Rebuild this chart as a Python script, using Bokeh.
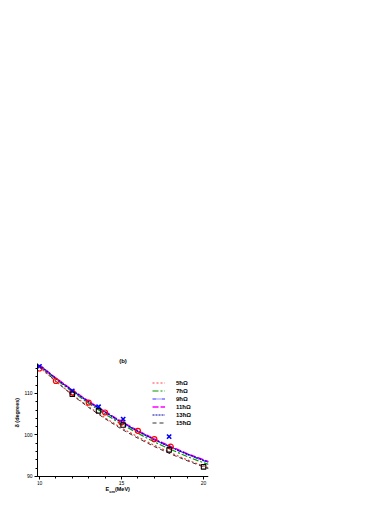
from bokeh.plotting import figure
from bokeh.models import Legend, LegendItem, Title, Label, SingleIntervalTicker, Range1d
from bokeh.embed import file_html
from bokeh.resources import INLINE

# ---- data ----
x_curve = [10, 11, 12, 13, 14, 15, 16, 17, 18, 19, 20, 20.3]
c5 = [116.3, 112.9, 109.7, 106.8, 104.1, 101.7, 99.5, 97.5, 95.7, 94.0, 92.5, 92.1]
c7 = [116.6, 113.4, 110.4, 107.6, 105.0, 102.6, 100.4, 98.3, 96.5, 94.8, 93.3, 92.9]
c9 = [116.7, 113.6, 110.7, 107.9, 105.4, 103.0, 100.8, 98.8, 97.0, 95.3, 93.8, 93.4]
c11 = [116.8, 113.7, 110.8, 108.1, 105.6, 103.2, 101.0, 99.0, 97.2, 95.5, 94.0, 93.6]
c13 = [116.8, 113.6, 110.7, 108.0, 105.5, 103.1, 100.9, 98.9, 97.1, 95.4, 93.9, 93.5]
c15 = [116.5, 112.9, 109.6, 106.6, 103.9, 101.4, 99.2, 97.2, 95.4, 93.8, 92.3, 91.9]

circ_x = [10, 11, 12, 13, 14, 15, 16, 17, 18]
circ_y = [116.0, 113.0, 110.2, 107.8, 105.4, 103.0, 101.0, 99.0, 97.2]
cross_x = [10, 12, 13.6, 15.1, 17.9]
cross_y = [116.5, 110.6, 106.8, 103.8, 99.6]
sq_x = [12, 13.6, 15.1, 17.9, 20]
sq_y = [109.8, 105.8, 102.4, 96.4, 92.3]

labels = ["5\u0127\u03a9", "7\u0127\u03a9", "9\u0127\u03a9", "11\u0127\u03a9", "13\u0127\u03a9", "15\u0127\u03a9"]
series = [c5, c7, c9, c11, c13, c15]
colors = ["#ff4040", "#009900", "#3030ff", "#ff00ff", "#0000aa", "#333333"]
dashes = ["2 2", "6 2 2 2", "4 1 1 1 1 1", "6 2", "2 1", "4 3"]
widths = [1.2, 1.2, 1.2, 1.6, 1.2, 1.0]

FONT = "Liberation Sans"
Y0, Y1 = 90, 117.2

p = figure(width=370, height=495, output_backend="svg", toolbar_location=None,
           x_range=Range1d(9.88, 20.3), y_range=Range1d(85.42, Y1),
           min_border_left=37, min_border_right=162, min_border_top=363, min_border_bottom=0)
p.frame_width = 171
p.frame_height = 132
p.outline_line_color = None
p.xgrid.visible = False
p.ygrid.visible = False
p.background_fill_color = "white"
p.border_fill_color = "white"

p.title.text = "(b)"
p.title.align = "center"
p.title.text_font = FONT
p.title.text_font_size = "6px"
p.title.text_font_style = "bold"
p.title.text_color = "black"
p.title.standoff = 0

items = []
for lab, ys, col, d, w in zip(labels, series, colors, dashes, widths):
    r = p.line(x_curve, ys, line_color=col, line_dash=d, line_width=w)
    items.append(LegendItem(label=lab, renderers=[r]))

p.scatter(circ_x, circ_y, marker="circle", size=5, fill_color=None, line_color="red", line_width=1.2)
p.scatter(cross_x, cross_y, marker="x", size=6, line_color="blue", line_width=1.6)
p.scatter(sq_x, sq_y, marker="square", size=4.5, fill_color=None, line_color="black", line_width=1.1)

for ax in (p.xaxis[0], p.yaxis[0]):
    ax.major_label_text_font = FONT
    ax.major_label_text_font_size = "5px"
    ax.major_label_text_color = "black"
    ax.axis_line_color = "black"
    ax.major_tick_line_color = "black"
    ax.minor_tick_line_color = "black"
    ax.major_tick_in = 0
    ax.major_tick_out = 3
    ax.minor_tick_in = 0
    ax.minor_tick_out = 2
    ax.axis_line_width = 1
    ax.major_label_standoff = 2

p.xaxis.ticker = SingleIntervalTicker(interval=5, num_minor_ticks=5)
p.yaxis.ticker = SingleIntervalTicker(interval=10, num_minor_ticks=5)
p.yaxis.bounds = (Y0, Y1)
p.xaxis.fixed_location = Y0
p.xaxis.axis_label = None
p.yaxis.axis_label = None

# y-axis label as a left title (leading no-break spaces lift it to the reference position)
ty = Title(text="\u00a0" * 22 + "\u03b4 (degrees)", align="center", standoff=4,
           text_font=FONT, text_font_size="5.5px", text_font_style="bold", text_color="black")
p.add_layout(ty, "left")

# x-axis label "E_cm (MeV)"
lab_kw = dict(text_font=FONT, text_font_style="bold", text_color="black",
              text_align="left", text_baseline="middle")
p.add_layout(Label(x=14.02, y=86.99, text="E", text_font_size="5.5px", **lab_kw))
p.add_layout(Label(x=14.25, y=86.5, text="cm", text_font_size="4px", **lab_kw))
p.add_layout(Label(x=14.6, y=86.99, text="(MeV)", text_font_size="5.5px", **lab_kw))

legend = Legend(items=items, location=(115, 69), orientation="vertical",
                glyph_width=13, glyph_height=7, label_height=7, label_standoff=11,
                spacing=1, padding=0, margin=0, border_line_color=None,
                background_fill_alpha=0, label_text_font=FONT, label_text_color="black",
                label_text_font_size="6px", label_text_font_style="bold")
p.add_layout(legend)

open("out.html", "w").write(file_html(p, INLINE))
